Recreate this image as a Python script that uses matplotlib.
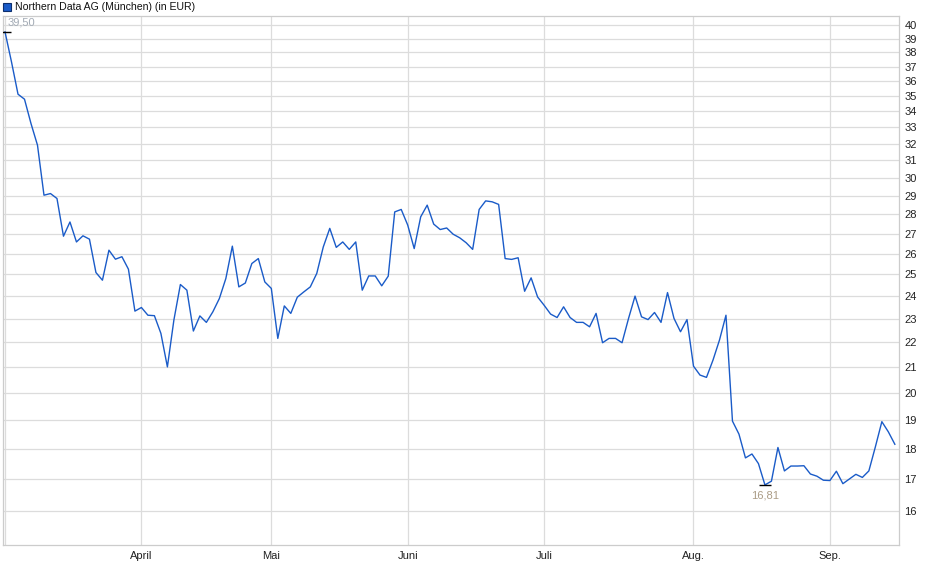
import matplotlib
matplotlib.use('Agg')
import matplotlib.pyplot as plt
from matplotlib.patches import Rectangle
from matplotlib.ticker import FixedLocator, NullLocator

# Kursverlauf (Schlusskurse je Handelstag, in EUR)
kurse = [
    39.50, 37.32, 35.12, 34.79, 33.23, 31.90, 29.03, 29.12, 28.85, 26.87,
    27.60, 26.58, 26.89, 26.72, 25.09, 24.73, 26.17, 25.73, 25.85, 25.25,
    23.33, 23.49, 23.15, 23.13, 22.37, 21.00, 22.94, 24.53, 24.27, 22.47,
    23.12, 22.84, 23.30, 23.89, 24.81, 26.37, 24.42, 24.60, 25.52, 25.76,
    24.65, 24.35, 22.16, 23.56, 23.23, 23.95, 24.19, 24.42, 25.05, 26.33,
    27.27, 26.31, 26.58, 26.21, 26.58, 24.27, 24.93, 24.93, 24.47, 24.92,
    28.13, 28.26, 27.44, 26.25, 27.87, 28.49, 27.49, 27.21, 27.29, 26.97,
    26.79, 26.54, 26.21, 28.26, 28.72, 28.67, 28.53, 25.76, 25.72, 25.80,
    24.22, 24.84, 23.96, 23.59, 23.20, 23.05, 23.52, 23.05, 22.84, 22.84,
    22.65, 23.23, 21.98, 22.16, 22.16, 21.98, 23.01, 24.00, 23.08, 22.96,
    23.27, 22.84, 24.16, 23.01, 22.44, 22.96, 21.03, 20.68, 20.59, 21.27,
    22.09, 23.15, 18.96, 18.50, 17.69, 17.82, 17.50, 16.81, 16.93, 18.04,
    17.26, 17.42, 17.42, 17.43, 17.16, 17.09, 16.96, 16.95, 17.25, 16.85,
    17.00, 17.15, 17.05, 17.26, 18.06, 18.94, 18.58, 18.15,
]
# erster Handelstag jedes Monats (Index in kurse)
monats_start = [0, 21, 41, 62, 83, 106, 127]
monats_namen = ['', 'April', 'Mai', 'Juni', 'Juli', 'Aug.', 'Sep.']
y_ticks = list(range(16, 41))

titel = 'Northern Data AG (München) (in EUR)'

plt.rcParams['font.family'] = ['Liberation Sans', 'DejaVu Sans']

W, H = 940, 579
fig = plt.figure(figsize=(W / 100, H / 100), dpi=100)
ax = fig.add_axes([3 / W, 1 - 545 / H, (899 - 3) / W, (545 - 16) / H])

x = list(range(len(kurse)))
linie = '#1a5bc8'
ax.plot(x, kurse, color=linie, lw=1.0, zorder=3)

ax.set_yscale('log')
ax.set_ylim(15.01, 40.7)
ax.set_xlim(-0.31, 137.64)

ax.yaxis.set_major_locator(FixedLocator(y_ticks))
ax.yaxis.set_minor_locator(NullLocator())
ax.set_yticklabels([str(v) for v in y_ticks])
ax.yaxis.tick_right()
ax.tick_params(axis='y', length=0, pad=4, labelsize=8, labelcolor='#222222')

ax.set_xticks(monats_start)
ax.set_xticklabels(monats_namen)
ax.tick_params(axis='x', length=0, pad=4, labelsize=8, labelcolor='#222222')

ax.grid(True, color='#dcdcdc', lw=0.9)
ax.set_axisbelow(True)
for s in ax.spines.values():
    s.set_color('#cccccc')
    s.set_linewidth(0.9)

# Hoch / Tief markieren
i_max = kurse.index(max(kurse))
i_min = kurse.index(min(kurse))
ax.plot([i_max], [kurse[i_max]], marker='_', ms=8, mew=1.0, color='black', zorder=4)
ax.plot([i_min], [kurse[i_min]], marker='_', ms=8, mew=1.0, color='black', zorder=4)
ax.annotate(f'{kurse[i_max]:.2f}'.replace('.', ','), (i_max, kurse[i_max]),
            xytext=(3, 9), textcoords='offset pixels', ha='left', va='center',
            fontsize=8, color='#a3abb5')
ax.annotate(f'{kurse[i_min]:.2f}'.replace('.', ','), (i_min, kurse[i_min]),
            xytext=(0, -11), textcoords='offset pixels', ha='center', va='center',
            fontsize=8, color='#ab9c86')

# Legende oben links
fig.patches.append(Rectangle((3 / W, 1 - 10.5 / H), 7.5 / W, 7.5 / H, transform=fig.transFigure,
                             facecolor=linie, edgecolor='#0d2f6e', lw=0.8))
fig.text(15 / W, 1 - 6.5 / H, titel, ha='left', va='center', fontsize=7.6, color='#111111')

fig.savefig('out.png', dpi=100, facecolor='white')
